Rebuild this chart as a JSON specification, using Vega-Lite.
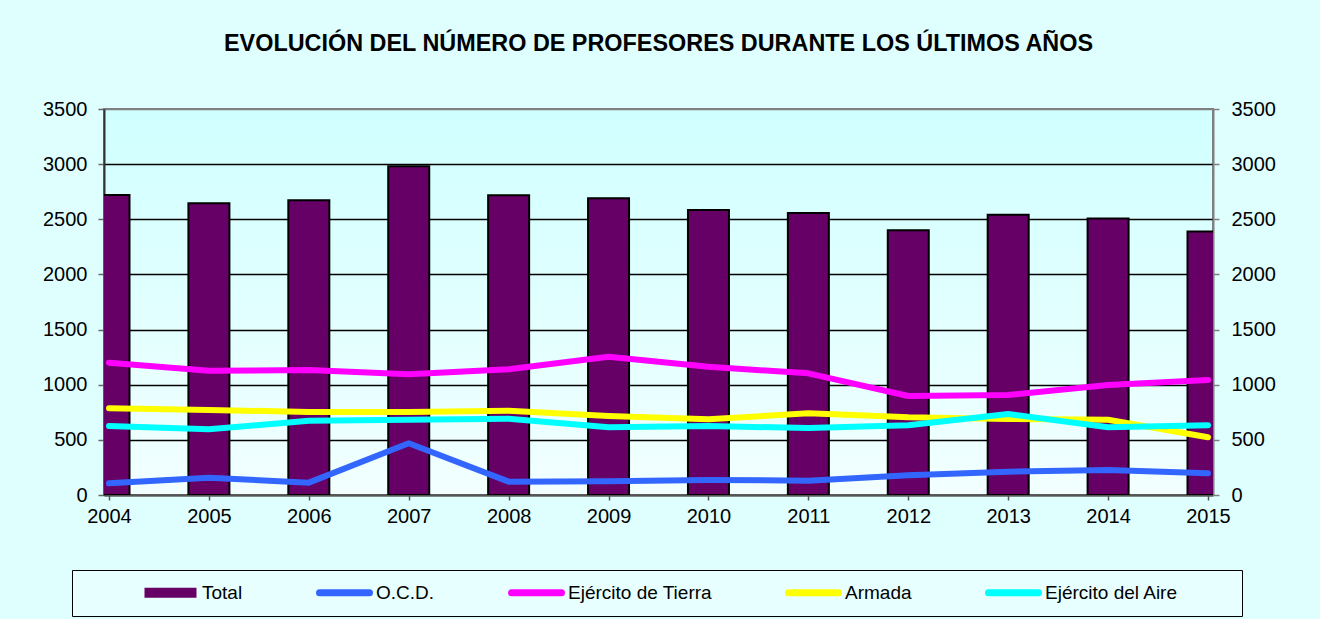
{
  "$schema": "https://vega.github.io/schema/vega-lite/v6.json",
  "width": 1109,
  "height": 386,
  "autosize": {"type": "none"},
  "padding": {"left": 104, "top": 109, "right": 107, "bottom": 124},
  "background": "#DFFFFF",
  "title": {
    "text": "EVOLUCIÓN DEL NÚMERO DE PROFESORES DURANTE LOS ÚLTIMOS AÑOS",
    "font": "Liberation Sans",
    "fontSize": 23.4,
    "fontWeight": "bold",
    "color": "#000000",
    "anchor": "middle",
    "offset": 43
  },
  "datasets": {
    "totales": [
      {"anio": 2004, "total": 2720},
      {"anio": 2005, "total": 2645},
      {"anio": 2006, "total": 2672},
      {"anio": 2007, "total": 2980},
      {"anio": 2008, "total": 2718},
      {"anio": 2009, "total": 2690},
      {"anio": 2010, "total": 2585},
      {"anio": 2011, "total": 2556},
      {"anio": 2012, "total": 2400},
      {"anio": 2013, "total": 2540},
      {"anio": 2014, "total": 2506},
      {"anio": 2015, "total": 2390}
    ],
    "series": [
      {"anio": 2004, "serie": "O.C.D.", "valor": 106},
      {"anio": 2005, "serie": "O.C.D.", "valor": 157},
      {"anio": 2006, "serie": "O.C.D.", "valor": 112},
      {"anio": 2007, "serie": "O.C.D.", "valor": 469},
      {"anio": 2008, "serie": "O.C.D.", "valor": 121},
      {"anio": 2009, "serie": "O.C.D.", "valor": 124},
      {"anio": 2010, "serie": "O.C.D.", "valor": 136},
      {"anio": 2011, "serie": "O.C.D.", "valor": 130},
      {"anio": 2012, "serie": "O.C.D.", "valor": 178},
      {"anio": 2013, "serie": "O.C.D.", "valor": 211},
      {"anio": 2014, "serie": "O.C.D.", "valor": 227},
      {"anio": 2015, "serie": "O.C.D.", "valor": 197},
      {"anio": 2004, "serie": "Ejército de Tierra", "valor": 1200},
      {"anio": 2005, "serie": "Ejército de Tierra", "valor": 1127},
      {"anio": 2006, "serie": "Ejército de Tierra", "valor": 1133},
      {"anio": 2007, "serie": "Ejército de Tierra", "valor": 1094},
      {"anio": 2008, "serie": "Ejército de Tierra", "valor": 1140},
      {"anio": 2009, "serie": "Ejército de Tierra", "valor": 1254},
      {"anio": 2010, "serie": "Ejército de Tierra", "valor": 1163},
      {"anio": 2011, "serie": "Ejército de Tierra", "valor": 1103},
      {"anio": 2012, "serie": "Ejército de Tierra", "valor": 898},
      {"anio": 2013, "serie": "Ejército de Tierra", "valor": 907},
      {"anio": 2014, "serie": "Ejército de Tierra", "valor": 997},
      {"anio": 2015, "serie": "Ejército de Tierra", "valor": 1043},
      {"anio": 2004, "serie": "Armada", "valor": 786},
      {"anio": 2005, "serie": "Armada", "valor": 771},
      {"anio": 2006, "serie": "Armada", "valor": 753},
      {"anio": 2007, "serie": "Armada", "valor": 753},
      {"anio": 2008, "serie": "Armada", "valor": 764},
      {"anio": 2009, "serie": "Armada", "valor": 716},
      {"anio": 2010, "serie": "Armada", "valor": 686},
      {"anio": 2011, "serie": "Armada", "valor": 741},
      {"anio": 2012, "serie": "Armada", "valor": 704},
      {"anio": 2013, "serie": "Armada", "valor": 690},
      {"anio": 2014, "serie": "Armada", "valor": 682},
      {"anio": 2015, "serie": "Armada", "valor": 523},
      {"anio": 2004, "serie": "Ejército del Aire", "valor": 626},
      {"anio": 2005, "serie": "Ejército del Aire", "valor": 596},
      {"anio": 2006, "serie": "Ejército del Aire", "valor": 674},
      {"anio": 2007, "serie": "Ejército del Aire", "valor": 683},
      {"anio": 2008, "serie": "Ejército del Aire", "valor": 692},
      {"anio": 2009, "serie": "Ejército del Aire", "valor": 614},
      {"anio": 2010, "serie": "Ejército del Aire", "valor": 626},
      {"anio": 2011, "serie": "Ejército del Aire", "valor": 607},
      {"anio": 2012, "serie": "Ejército del Aire", "valor": 632},
      {"anio": 2013, "serie": "Ejército del Aire", "valor": 734},
      {"anio": 2014, "serie": "Ejército del Aire", "valor": 614},
      {"anio": 2015, "serie": "Ejército del Aire", "valor": 632}
    ]
  },
  "config": {
    "font": "Liberation Sans",
    "view": {
      "fill": {
        "gradient": "linear",
        "x1": 0, "y1": 0, "x2": 0, "y2": 1,
        "stops": [
          {"offset": 0, "color": "#D0FFFF"},
          {"offset": 1, "color": "#F2FFFF"}
        ]
      },
      "stroke": "#808080",
      "strokeWidth": 2
    },
    "axis": {
      "labelFont": "Liberation Sans",
      "labelFontSize": 20,
      "labelColor": "#000000",
      "title": null
    },
    "legend": {
      "orient": "none",
      "legendX": -32,
      "legendY": 461,
      "direction": "horizontal",
      "columns": 5,
      "fillColor": "#E8FFFF",
      "strokeColor": "#000000",
      "padding": 13,
      "labelFont": "Liberation Sans",
      "labelFontSize": 19,
      "labelColor": "#000000",
      "labelLimit": 400,
      "titleOrient": "right",
      "titlePadding": 51,
      "titleFontSize": 19,
      "symbolSize": 100,
      "symbolStrokeWidth": 2,
      "symbolStrokeColor": "#000000",
      "symbolOffset": 76,
      "labelOffset": 22,
      "columnPadding": 16
    }
  },
  "layer": [
    {
      "data": {"name": "totales"},
      "mark": {"type": "bar", "width": 41, "stroke": "#000000", "strokeWidth": 2, "clip": true},
      "encoding": {
        "x": {
          "field": "anio",
          "type": "quantitative",
          "scale": {"domain": [2004, 2015], "nice": false, "zero": false},
          "axis": {
            "values": [2004, 2005, 2006, 2007, 2008, 2009, 2010, 2011, 2012, 2013, 2014, 2015],
            "format": "d",
            "labelFlush": false,
            "grid": false,
            "tickSize": 5,
            "tickWidth": 1.5,
            "tickColor": "#555555",
            "domainColor": "#555555",
            "domainWidth": 2,
            "labelPadding": 6
          }
        },
        "y": {
          "field": "total",
          "type": "quantitative",
          "scale": {"domain": [0, 3500], "nice": false},
          "axis": {
            "values": [0, 500, 1000, 1500, 2000, 2500, 3000, 3500],
            "format": "d",
            "grid": true,
            "gridColor": {"condition": {"test": "datum.value === 3500", "value": "#808080"}, "value": "#000000"},
            "gridWidth": 1.5,
            "tickSize": 6,
            "tickWidth": 1.5,
            "tickColor": "#666666",
            "domainColor": "#333333",
            "domainWidth": 2,
            "labelPadding": 11
          }
        },
        "color": {
          "datum": "Total",
          "type": "nominal",
          "scale": {
            "domain": ["Total", "O.C.D.", "Ejército de Tierra", "Armada", "Ejército del Aire"],
            "range": ["#660066", "#3366FF", "#FF00FF", "#FFFF00", "#00FFFF"]
          },
          "legend": {
            "title": "\u00a0",
            "encode": {
              "symbols": {
                "update": {
                  "shape": {"signal": "datum.value == 'Total' ? 'M-5,-0.8H5V0.8H-5Z' : 'M-5,-0.5H5A0.5,0.5 0 0 1 5,0.5H-5A0.5,0.5 0 0 1 -5,-0.5Z'"},
                  "fill": {"signal": "scale('color', datum.value)"},
                  "stroke": {"signal": "datum.value == 'Total' ? '#000000' : scale('color', datum.value)"},
                  "strokeWidth": {"value": 2},
                  "opacity": {"value": 1}
                }
              }
            }
          }
        }
      }
    },
    {
      "data": {"name": "series"},
      "mark": {"type": "line", "strokeWidth": 6, "strokeJoin": "round", "strokeCap": "round"},
      "encoding": {
        "x": {
          "field": "anio",
          "type": "quantitative",
          "scale": {"domain": [2004, 2015], "nice": false, "zero": false},
          "axis": {
            "values": [2004, 2005, 2006, 2007, 2008, 2009, 2010, 2011, 2012, 2013, 2014, 2015],
            "format": "d",
            "labelFlush": false,
            "grid": false,
            "tickSize": 5,
            "tickWidth": 1.5,
            "tickColor": "#555555",
            "domainColor": "#555555",
            "domainWidth": 2,
            "labelPadding": 6
          }
        },
        "y": {
          "field": "valor",
          "type": "quantitative",
          "scale": {"domain": [0, 3500], "nice": false},
          "axis": {
            "orient": "right",
            "values": [0, 500, 1000, 1500, 2000, 2500, 3000, 3500],
            "format": "d",
            "grid": false,
            "tickSize": 6,
            "tickWidth": 1.5,
            "tickColor": "#808080",
            "domainColor": "#808080",
            "domainWidth": 2,
            "labelPadding": 12
          }
        },
        "color": {
          "field": "serie",
          "type": "nominal",
          "legend": {
            "title": "\u00a0",
            "encode": {
              "symbols": {
                "update": {
                  "shape": {"signal": "datum.value == 'Total' ? 'M-5,-0.8H5V0.8H-5Z' : 'M-5,-0.5H5A0.5,0.5 0 0 1 5,0.5H-5A0.5,0.5 0 0 1 -5,-0.5Z'"},
                  "fill": {"signal": "scale('color', datum.value)"},
                  "stroke": {"signal": "datum.value == 'Total' ? '#000000' : scale('color', datum.value)"},
                  "strokeWidth": {"value": 2},
                  "opacity": {"value": 1}
                }
              }
            }
          }
        }
      }
    }
  ],
  "resolve": {"axis": {"y": "independent"}}
}
